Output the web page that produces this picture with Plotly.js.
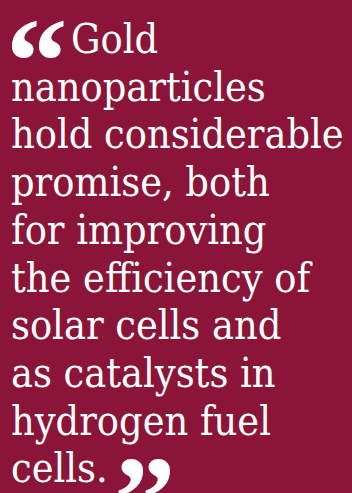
<!DOCTYPE html>
<html><head><meta charset="utf-8">
<script src="https://cdn.plot.ly/plotly-3.0.1.min.js"></script>
<style>html,body{margin:0;padding:0;background:#8B1538;}#chart{width:352px;height:493px;}</style>
</head><body><div id="chart"></div>
<script>
const quoteLines = ["Gold","nanoparticles","hold considerable","promise, both","for improving","the efficiency of","solar cells and","as catalysts in","hydrogen fuel","cells."];
const openQuote = "\u201C";
const closeQuote = "\u201D";

const W = 352, H = 493;
const FONT = "DejaVu Serif Condensed, DejaVu Serif, serif";
const QFONT = "Liberation Serif, serif";
const py = v => 1 - v / H;   // pixel-from-top -> paper fraction
const px = v => v / W;
const annotations = [];
const firstBase = 64, pitch = 47.7;
quoteLines.forEach((t, i) => {
  annotations.push({
    xref:'paper', yref:'paper', x: px(i === 0 ? 70 : 10), y: py(firstBase + i*pitch),
    xanchor:'left', yanchor:'bottom', showarrow:false, text:t,
    font:{family:FONT, size:41, color:'#ffffff'}, borderpad:0
  });
});
annotations.push({xref:'paper', yref:'paper', x:px(5), y:py(-8), xanchor:'left', yanchor:'top', showarrow:false,
  text:openQuote, font:{family:QFONT, size:123, color:'#ffffff', weight:700}, borderpad:0});
annotations.push({xref:'paper', yref:'paper', x:px(113), y:py(430), xanchor:'left', yanchor:'top', showarrow:false,
  text:closeQuote, font:{family:QFONT, size:123, color:'#ffffff', weight:700}, borderpad:0});

Plotly.newPlot('chart', [], {
  width:W, height:H, margin:{l:0,r:0,t:0,b:0},
  paper_bgcolor:'#8B1538', plot_bgcolor:'#8B1538',
  xaxis:{range:[0,W], visible:false, fixedrange:true},
  yaxis:{range:[H,0], visible:false, fixedrange:true},
  showlegend:false, annotations:annotations
}, {displayModeBar:false, staticPlot:true});
</script></body></html>
